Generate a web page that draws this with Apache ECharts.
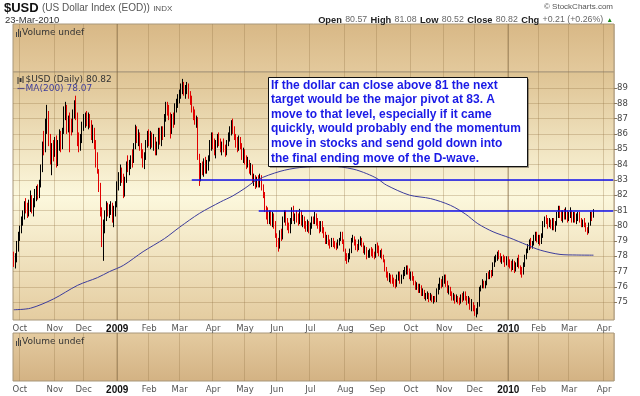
<!DOCTYPE html>
<html><head><meta charset="utf-8">
<script src="https://cdn.jsdelivr.net/npm/echarts@6/dist/echarts.min.js"></script>
<style>html,body{margin:0;padding:0;background:#fff;}#c{width:640px;height:396px;}</style>
</head><body><div id="c"></div>
<script>
// ---------- DATA ----------
const firstDay = '2008-09-25', lastAxisDay = '2010-04-09';
const holidays = ['2008-11-27','2008-12-25','2009-01-01','2009-04-10','2009-11-26','2009-12-25','2010-01-01'];
const monthNames = ['Jan','Feb','Mar','Apr','May','Jun','Jul','Aug','Sep','Oct','Nov','Dec'];
const priceTicks = [75,76,77,78,79,80,81,82,83,84,85,86,87,88,89];

const opens = [
 77.9,77.6,77.9,78.7,
 79.3,79.8,80.4,80.7,81.3,81.0,80.9,81.4,81.9,81.1,81.5,82.1,82.3,81.9,82.8,83.7,85.2,85.0,86.4,87.2,85.6,84.6,85.0,
 84.9,85.5,84.2,85.2,86.0,85.2,86.2,87.5,87.7,86.4,86.8,86.5,86.3,87.3,87.9,87.2,85.6,85.2,85.6,
 86.6,86.9,87.0,86.8,87.1,86.7,85.9,86.2,85.3,84.2,83.6,82.4,81.0,78.9,79.9,80.7,81.3,80.9,81.1,81.4,80.5,81.0,
 81.3,82.7,83.3,83.6,83.1,82.2,83.0,84.0,83.9,84.1,84.4,84.3,85.2,86.2,85.8,86.0,85.2,84.6,84.1,84.5,85.4,
 85.9,85.6,85.9,85.4,85.7,84.9,85.2,86.1,85.6,86.2,85.9,87.0,87.8,87.6,87.3,86.3,87.0,86.7,87.8,87.9,
 88.4,88.6,89.0,89.1,88.8,88.9,89.1,88.5,88.1,87.6,87.2,86.9,87.0,84.6,83.2,83.7,83.5,84.2,83.7,84.0,84.4,85.4,
 85.8,85.4,84.8,85.4,85.8,85.4,85.1,85.2,85.0,84.8,85.4,85.9,86.2,86.6,86.3,85.7,85.4,85.0,85.6,85.2,84.5,
 84.9,84.3,84.0,84.2,83.7,83.9,83.0,83.2,82.6,83.0,82.7,83.2,82.5,82.0,81.1,80.7,80.4,80.8,80.3,80.7,80.1,
 79.4,78.9,78.7,79.5,79.2,80.4,80.8,80.2,80.0,79.7,80.3,80.9,80.5,80.6,80.4,80.2,80.9,80.3,80.5,80.0,79.8,80.1,
 79.7,79.9,80.4,80.3,80.6,80.3,80.1,79.8,80.1,79.7,79.4,79.0,79.2,78.9,78.7,79.0,78.8,78.7,78.6,78.9,79.1,79.5,79.0,
 78.4,77.9,77.8,78.0,78.3,79.1,79.2,78.9,78.6,78.5,78.9,79.1,78.8,78.4,78.5,78.0,78.2,78.4,78.3,78.1,78.0,
 78.6,78.5,78.2,78.3,78.0,77.7,77.1,76.8,76.6,76.7,76.5,76.4,76.2,76.1,76.6,76.9,76.3,76.6,76.9,77.1,77.2,77.0,
 76.7,76.8,76.6,76.3,75.9,76.1,75.8,76.0,75.6,75.7,75.3,75.4,75.5,75.2,75.4,75.1,75.3,75.1,75.7,76.0,76.4,76.1,
 76.5,76.6,76.2,75.8,75.9,75.6,75.3,75.4,75.1,75.3,75.1,75.0,75.3,75.2,75.6,75.3,75.0,75.2,74.7,74.9,
 74.6,74.3,74.4,74.8,75.9,76.0,76.3,76.1,76.2,76.8,76.7,77.0,76.8,77.5,77.9,78.0,78.1,78.0,77.7,77.9,77.8,77.5,
 77.9,77.6,77.5,77.3,77.6,77.1,77.4,77.8,77.3,77.0,76.9,77.4,77.9,78.4,78.6,79.0,78.7,78.8,79.3,79.4,
 79.1,79.2,78.9,79.3,80.2,80.4,80.3,80.0,80.3,80.0,80.4,79.9,80.1,80.7,81.1,80.7,80.5,80.9,80.6,80.9,
 80.4,80.7,80.9,80.3,80.7,80.4,80.6,80.8,80.3,80.1,80.2,80.1,79.7,79.6,80.1,80.8,80.57
];
const highs = [
 78.3,78.2,79.0,79.6,
 80.0,80.6,81.0,81.6,81.8,81.5,81.7,82.3,82.0,81.8,82.4,82.6,82.7,83.0,84.0,85.5,86.2,87.0,87.9,87.5,86.0,85.4,85.6,
 85.8,85.9,85.6,86.3,86.2,86.4,87.8,88.1,87.9,87.2,87.4,87.0,87.6,88.2,88.5,87.4,86.1,86.0,86.8,
 87.3,87.4,87.5,87.4,87.3,86.9,86.6,86.4,85.6,84.8,83.7,82.8,81.2,80.4,81.0,81.6,81.5,81.4,81.6,81.5,81.3,81.6,
 82.9,83.5,84.0,83.8,83.4,83.2,84.2,84.6,84.3,84.6,85.0,85.4,86.6,86.5,86.3,86.1,85.4,85.0,84.8,85.6,86.2,
 86.3,86.2,86.1,86.0,85.8,85.5,86.4,86.4,86.5,86.5,87.3,88.1,88.1,87.9,87.4,87.3,87.4,88.0,88.3,88.6,
 88.9,89.3,89.6,89.4,89.2,89.4,89.3,88.8,88.5,87.8,87.6,87.2,87.1,84.7,84.1,84.2,84.4,84.5,84.3,84.6,85.6,86.1,
 86.1,85.7,85.6,86.0,86.1,85.7,85.5,85.7,85.3,85.6,86.1,86.5,86.9,87.0,86.5,86.0,85.8,85.9,85.8,85.4,85.1,
 85.0,84.6,84.5,84.3,84.1,84.0,83.4,83.3,83.2,83.3,83.4,83.3,82.7,82.2,81.3,81.2,81.0,81.0,80.9,80.8,80.3,
 79.5,79.2,79.7,79.8,80.6,81.0,81.0,80.5,80.2,80.5,81.2,81.3,80.8,81.0,80.8,81.1,81.0,80.7,80.6,80.3,80.4,80.3,
 80.2,80.6,80.6,80.9,80.8,80.5,80.3,80.3,80.3,79.9,79.6,79.4,79.4,79.1,79.2,79.2,79.0,78.9,79.1,79.2,79.6,79.6,79.1,
 78.5,78.2,78.2,78.5,79.2,79.4,79.3,79.1,78.8,79.1,79.3,79.2,78.9,78.7,78.6,78.4,78.5,78.6,78.5,78.3,78.8,
 78.9,78.7,78.4,78.5,78.1,77.8,77.3,77.0,76.9,76.8,76.8,76.6,76.5,76.8,77.0,77.0,76.8,77.1,77.3,77.4,77.4,77.2,
 77.0,77.0,76.7,76.4,76.3,76.2,76.2,76.1,75.9,75.8,75.6,75.7,75.6,75.6,75.5,75.4,75.4,75.9,76.2,76.6,76.5,76.7,
 76.8,76.8,76.4,76.1,76.0,75.7,75.6,75.5,75.5,75.4,75.3,75.5,75.6,75.7,75.7,75.4,75.4,75.3,75.2,75.0,
 74.8,74.6,75.0,76.0,76.1,76.5,76.4,76.4,76.9,77.0,77.1,77.1,77.6,78.0,78.1,78.3,78.4,78.2,78.0,78.1,78.0,78.0,
 78.0,77.8,77.7,77.8,77.7,77.6,77.9,78.1,77.4,77.3,77.6,78.1,78.5,78.8,79.1,79.2,79.0,79.4,79.6,79.6,
 79.4,79.4,79.5,80.3,80.6,80.7,80.5,80.5,80.4,80.5,80.5,80.3,80.9,81.3,81.3,81.0,81.0,81.1,81.2,81.0,
 80.9,81.2,81.0,80.9,80.9,80.8,80.9,80.9,80.5,80.4,80.5,80.2,79.9,80.2,80.9,80.9,81.08
];
const lows = [
 77.3,77.2,77.6,78.3,
 79.0,79.5,80.0,80.4,80.8,80.5,80.6,80.9,80.8,80.6,81.2,81.6,81.7,81.8,82.5,83.5,84.6,84.8,86.0,85.2,84.0,83.3,84.2,
 84.5,83.8,83.9,84.9,84.8,85.0,86.0,86.9,86.0,86.1,84.8,85.9,86.1,87.0,86.9,85.2,84.8,84.9,85.4,
 86.2,86.4,86.5,86.3,86.4,85.6,85.4,85.0,83.8,83.4,82.2,80.6,78.6,77.7,79.5,80.3,80.6,80.5,80.7,80.2,79.9,80.6,
 81.2,82.3,82.6,82.8,81.8,81.9,82.8,83.5,83.3,83.7,83.8,84.1,85.0,85.4,85.2,84.9,84.4,83.8,83.7,84.3,85.1,
 85.2,85.0,85.1,84.9,84.6,84.6,85.0,85.3,85.2,85.6,85.8,86.8,87.2,86.9,85.7,86.0,86.4,86.6,87.4,87.7,
 88.0,88.3,88.6,88.5,88.3,88.6,88.3,87.9,87.4,86.9,86.6,86.4,84.3,82.6,82.9,83.3,83.2,83.4,83.4,83.6,84.2,84.9,
 85.0,84.6,84.4,85.1,85.2,84.8,84.6,84.8,84.5,84.6,85.2,85.5,85.9,86.0,85.6,85.1,84.8,84.9,85.0,84.3,84.1,
 84.0,83.7,83.8,83.4,83.3,82.8,82.6,82.4,82.5,82.5,82.5,82.3,81.8,80.9,80.4,80.1,80.1,80.0,79.9,79.8,79.2,
 78.6,78.3,78.5,79.0,79.1,80.2,80.0,79.7,79.5,79.5,80.1,80.3,80.1,80.2,80.0,80.1,80.0,79.9,79.8,79.6,79.6,79.5,
 79.4,79.8,80.1,80.1,80.0,79.8,79.5,79.6,79.5,79.2,78.8,78.8,78.7,78.5,78.6,78.6,78.5,78.4,78.5,78.7,79.0,78.8,78.3,
 77.7,77.5,77.6,77.8,78.2,78.9,78.7,78.4,78.3,78.4,78.7,78.6,78.2,78.1,77.8,77.9,77.9,78.0,77.9,77.8,77.9,
 78.2,78.0,77.9,77.8,77.6,77.0,76.6,76.4,76.3,76.2,76.2,76.0,75.9,76.0,76.4,76.2,76.2,76.5,76.7,76.8,76.8,76.5,
 76.4,76.4,76.1,75.8,75.8,75.6,75.6,75.4,75.4,75.2,75.1,75.2,75.0,75.1,75.0,74.9,75.0,75.0,75.5,75.8,75.9,76.0,
 76.2,76.0,75.6,75.5,75.4,75.1,75.1,74.9,75.0,74.9,74.8,74.9,75.0,75.1,75.1,74.8,74.9,74.5,74.4,74.4,
 74.1,74.0,74.2,74.7,75.7,75.9,75.9,75.9,76.1,76.5,76.5,76.6,76.7,77.3,77.6,77.7,77.8,77.6,77.5,77.6,77.3,77.4,
 77.3,77.2,77.0,77.1,76.9,77.0,77.3,77.2,76.8,76.6,76.8,77.3,77.8,78.2,78.4,78.5,78.5,78.7,79.0,78.9,
 78.8,78.7,78.8,79.2,79.9,80.1,79.8,79.9,79.8,79.7,79.7,79.6,80.0,80.5,80.5,80.3,80.2,80.4,80.4,80.2,
 80.3,80.5,80.2,80.2,80.2,80.1,80.3,80.2,79.9,79.9,79.9,79.6,79.4,79.5,80.0,80.3,80.52
];
const closes = [
 77.6,77.9,78.7,79.3,
 79.8,80.4,80.7,81.3,81.0,80.9,81.4,81.9,81.1,81.5,82.1,82.3,81.9,82.8,83.7,85.2,85.0,86.4,87.2,85.6,84.6,85.0,84.9,
 85.5,84.2,85.2,86.0,85.2,86.2,87.5,87.7,86.4,86.8,86.5,86.3,87.3,87.9,87.2,85.6,85.2,85.6,86.6,
 86.9,87.0,86.8,87.1,86.7,85.9,86.2,85.3,84.2,83.6,82.4,81.0,78.9,79.9,80.7,81.3,80.9,81.1,81.4,80.5,81.0,81.3,
 82.7,83.3,83.6,83.1,82.2,83.0,84.0,83.9,84.1,84.4,84.3,85.2,86.2,85.8,86.0,85.2,84.6,84.1,84.5,85.4,85.9,
 85.6,85.9,85.4,85.7,84.9,85.2,86.1,85.6,86.2,85.9,87.0,87.8,87.6,87.3,86.3,87.0,86.7,87.8,87.9,88.4,
 88.6,89.0,89.1,88.8,88.9,89.1,88.5,88.1,87.6,87.2,86.9,87.0,84.6,83.2,83.7,83.5,84.2,83.7,84.0,84.4,85.4,85.8,
 85.4,84.8,85.4,85.8,85.4,85.1,85.2,85.0,84.8,85.4,85.9,86.2,86.6,86.3,85.7,85.4,85.0,85.6,85.2,84.5,84.9,
 84.3,84.0,84.2,83.7,83.9,83.0,83.2,82.6,83.0,82.7,83.2,82.5,82.0,81.1,80.7,80.4,80.8,80.3,80.7,80.1,79.4,
 78.9,78.7,79.5,79.2,80.4,80.8,80.2,80.0,79.7,80.3,80.9,80.5,80.6,80.4,80.2,80.9,80.3,80.5,80.0,79.8,80.1,79.7,
 79.9,80.4,80.3,80.6,80.3,80.1,79.8,80.1,79.7,79.4,79.0,79.2,78.9,78.7,79.0,78.8,78.7,78.6,78.9,79.1,79.5,79.0,78.4,
 77.9,77.8,78.0,78.3,79.1,79.2,78.9,78.6,78.5,78.9,79.1,78.8,78.4,78.5,78.0,78.2,78.4,78.3,78.1,78.0,78.6,
 78.5,78.2,78.3,78.0,77.7,77.1,76.8,76.6,76.7,76.5,76.4,76.2,76.1,76.6,76.9,76.3,76.6,76.9,77.1,77.2,77.0,76.7,
 76.8,76.6,76.3,75.9,76.1,75.8,76.0,75.6,75.7,75.3,75.4,75.5,75.2,75.4,75.1,75.3,75.1,75.7,76.0,76.4,76.1,76.5,
 76.6,76.2,75.8,75.9,75.6,75.3,75.4,75.1,75.3,75.1,75.0,75.3,75.2,75.6,75.3,75.0,75.2,74.7,74.9,74.6,
 74.3,74.4,74.8,75.9,76.0,76.3,76.1,76.2,76.8,76.7,77.0,76.8,77.5,77.9,78.0,78.1,78.0,77.7,77.9,77.8,77.5,77.9,
 77.6,77.5,77.3,77.6,77.1,77.4,77.8,77.3,77.0,76.9,77.4,77.9,78.4,78.6,79.0,78.7,78.8,79.3,79.4,79.1,
 79.2,78.9,79.3,80.2,80.4,80.3,80.0,80.3,80.0,80.4,79.9,80.1,80.7,81.1,80.7,80.5,80.9,80.6,80.9,80.4,
 80.7,80.9,80.3,80.7,80.4,80.6,80.8,80.3,80.1,80.2,80.1,79.7,79.6,80.1,80.8,80.61,80.82
];
// 200-day moving average, read at points along the curve
const maDates = ['2008-09-25','2008-10-10','2008-10-31','2008-11-24','2008-12-12','2008-12-24','2009-01-08','2009-01-27','2009-02-16','2009-03-02','2009-03-19','2009-04-08','2009-04-21','2009-05-01','2009-05-13','2009-06-03','2009-06-22','2009-07-20','2009-08-10','2009-08-21','2009-09-01','2009-09-09','2009-09-30','2009-10-20','2009-11-06','2009-11-20','2009-12-03','2009-12-17','2010-01-05','2010-01-20','2010-02-02','2010-02-19','2010-03-08','2010-03-23'];
const maValues = [74.5,74.6,75.2,76.1,76.6,77.0,77.4,78.3,79.15,79.9,80.8,81.56,81.95,82.45,83.0,83.55,83.8,83.9,83.7,83.4,83.07,82.65,82.0,81.77,81.33,80.75,80.13,79.6,79.2,78.75,78.4,78.12,78.08,78.07];
// horizontal levels drawn on the chart
const levelValues = [83, 81];
const levelStarts = ['2009-03-12', '2009-05-14'];
const noteLines = [
 'If the dollar can close above 81 the next',
 'target would be the major pivot at 83. A',
 'move to that level, especially if it came',
 'quickly, would probably end the momentum',
 'move in stocks and send gold down into',
 'the final ending move of the D-wave.'
];

// ---------- BUILD ----------
const dates = [];
(function(){
  const end = Date.parse(lastAxisDay + 'T00:00:00Z');
  for (let t = Date.parse(firstDay + 'T00:00:00Z'); t <= end; t += 86400000) {
    const d = new Date(t), wd = d.getUTCDay();
    if (wd === 0 || wd === 6) continue;
    const s = d.toISOString().slice(0, 10);
    if (holidays.indexOf(s) >= 0) continue;
    dates.push(s);
  }
})();
const monthStart = new Set();
const yearStarts = [];
for (let i = 1; i < dates.length; i++) {
  if (dates[i].slice(5, 7) !== dates[i - 1].slice(5, 7)) {
    monthStart.add(i);
    if (dates[i].slice(5, 7) === '01') yearStarts.push(dates[i]);
  }
}
const candles = closes.map((c, i) => [opens[i], c, lows[i], highs[i]]);
const maData = maDates.map((d, k) => [d, maValues[k]]);

const GL = 'rgba(150,118,70,0.32)';
const YL = 'rgba(120,95,60,0.5)';
function xAx(gi, labels) {
  return {
    type: 'category', gridIndex: gi, data: dates, boundaryGap: true,
    axisLine: {show: false}, axisTick: {show: false},
    axisLabel: labels ? {
      interval: (i) => monthStart.has(i), margin: 4,
      color: '#555', fontFamily: 'DejaVu Sans', fontSize: 8.5,
      formatter: (v) => { const m = +v.slice(5, 7); return m === 1 ? '{y|' + v.slice(0, 4) + '}' : monthNames[m - 1]; },
      rich: {y: {fontFamily: 'Liberation Sans', fontWeight: 'bold', fontSize: 10, color: '#111'}}
    } : {show: false},
    splitLine: {show: true, interval: (i) => monthStart.has(i), lineStyle: {color: GL, width: 1}}
  };
}
function grad(stops) {
  return {type: 'linear', x: 0, y: 0, x2: 0, y2: 1, colorStops: stops.map(s => ({offset: s[0], color: s[1]}))};
}
function yearLines() {
  return {silent: true, symbol: 'none', z: 1, animation: false, label: {show: false},
    lineStyle: {color: YL, width: 1, type: 'solid'},
    data: yearStarts.map(d => ({xAxis: d}))};
}
const BORDER = '#a8977b';
const option = {
  animation: false,
  grid: [
    {left: 13, right: 26, top: 24, height: 48, show: true, borderColor: BORDER, borderWidth: 1,
      backgroundColor: grad([[0, '#d8b886'], [1, '#e3c99c']])},
    {left: 13, right: 26, top: 72, height: 248, show: true, borderColor: BORDER, borderWidth: 1,
      backgroundColor: grad([[0, '#dec393'], [0.5, '#fcf8dd'], [1, '#e4cca0']])},
    {left: 13, right: 26, top: 333, height: 48, show: true, borderColor: BORDER, borderWidth: 1,
      backgroundColor: grad([[0, '#e4cba0'], [1, '#d3b283']])}
  ],
  xAxis: [xAx(0, false), xAx(1, true), xAx(2, true)],
  yAxis: [
    {type: 'value', gridIndex: 0, min: 0, max: 1, axisLabel: {show: false}, splitLine: {show: false}, axisLine: {show: false}, axisTick: {show: false}},
    {type: 'value', gridIndex: 1, position: 'right', min: 73.83, max: 90.05,
      axisLine: {show: false},
      axisTick: {show: true, customValues: priceTicks, length: 3, lineStyle: {color: '#8a7a60'}},
      axisLabel: {customValues: priceTicks, color: '#444', fontFamily: 'DejaVu Sans', fontSize: 8.5, margin: 3},
      splitLine: {show: false}},
    {type: 'value', gridIndex: 2, min: 0, max: 1, axisLabel: {show: false}, splitLine: {show: false}, axisLine: {show: false}, axisTick: {show: false}}
  ],
  series: [
    {type: 'line', xAxisIndex: 0, yAxisIndex: 0, data: [], markLine: yearLines()},
    {type: 'line', xAxisIndex: 2, yAxisIndex: 2, data: [], markLine: yearLines()},
    {type: 'line', xAxisIndex: 1, yAxisIndex: 1, data: [], z: 1,
      markLine: {silent: true, symbol: 'none', z: 1, animation: false, label: {show: false},
        lineStyle: {color: GL, width: 1, type: 'solid'},
        data: priceTicks.map(v => ({yAxis: v})).concat(yearStarts.map(d => ({xAxis: d, lineStyle: {color: YL}})))}},
    {type: 'candlestick', name: '$USD', xAxisIndex: 1, yAxisIndex: 1, data: candles, z: 3, barWidth: 1,
      itemStyle: {color: '#000', color0: '#e00000', borderColor: '#000', borderColor0: '#e00000', borderWidth: 1}},
    {type: 'line', name: 'MA(200)', xAxisIndex: 1, yAxisIndex: 1, data: maData, smooth: 0.3, showSymbol: false, z: 4,
      lineStyle: {color: '#3c3c9c', width: 1},
      markLine: {silent: true, symbol: 'none', z: 5, animation: false, label: {show: false},
        lineStyle: {color: '#1212ee', width: 1.6, type: 'solid'},
        data: levelValues.map((v, k) => [{coord: [levelStarts[k], v]}, {coord: [dates[dates.length - 1], v]}])}}
  ],
  graphic: [
    {type: 'text', left: 4, top: 2, style: {text: '{a|$USD} {b|(US Dollar Index (EOD))} {c|INDX}',
      rich: {a: {fontFamily: 'Liberation Sans', fontWeight: 'bold', fontSize: 13, fill: '#111'},
             b: {fontFamily: 'Liberation Sans', fontSize: 10, fill: '#555'},
             c: {fontFamily: 'Liberation Sans', fontSize: 8, fill: '#555'}}}},
    {type: 'text', left: 5, top: 15, style: {text: '23-Mar-2010', fontFamily: 'Liberation Sans', fontSize: 9.5, fill: '#333'}},
    {type: 'text', right: 27, top: 3, style: {text: '© StockCharts.com', fontFamily: 'Liberation Sans', fontSize: 8, fill: '#555'}},
    {type: 'text', right: 27, top: 14, style: {
      text: '{l|Open} {v|80.57} {l|High} {v|81.08} {l|Low} {v|80.52} {l|Close} {v|80.82} {l|Chg} {v|+0.21 (+0.26%)} {g|▲}',
      rich: {l: {fontFamily: 'Liberation Sans', fontWeight: 'bold', fontSize: 9.3, fill: '#222'},
             v: {fontFamily: 'Liberation Sans', fontSize: 8.8, fill: '#666'},
             g: {fontSize: 6.5, fill: '#1a8a1a'}}}},
    // volume panel labels
    {type: 'group', left: 16, top: 28, children: [
      {type: 'rect', shape: {x: 0, y: 3, width: 1, height: 5}, style: {fill: '#444'}},
      {type: 'rect', shape: {x: 2, y: 0, width: 1, height: 8}, style: {fill: '#444'}},
      {type: 'rect', shape: {x: 4, y: 2, width: 1, height: 6}, style: {fill: '#444'}},
      {type: 'text', x: 6, y: -1, style: {text: 'Volume undef', fontFamily: 'DejaVu Sans', fontSize: 9, fill: '#333'}}
    ]},
    {type: 'group', left: 16, top: 337, children: [
      {type: 'rect', shape: {x: 0, y: 3, width: 1, height: 5}, style: {fill: '#444'}},
      {type: 'rect', shape: {x: 2, y: 0, width: 1, height: 8}, style: {fill: '#444'}},
      {type: 'rect', shape: {x: 4, y: 2, width: 1, height: 6}, style: {fill: '#444'}},
      {type: 'text', x: 6, y: -1, style: {text: 'Volume undef', fontFamily: 'DejaVu Sans', fontSize: 9, fill: '#333'}}
    ]},
    // main panel legend
    {type: 'group', left: 15, top: 75, children: [
      {type: 'rect', shape: {x: 0, y: 1, width: 1, height: 7}, style: {fill: '#333'}},
      {type: 'rect', shape: {x: 2, y: 2, width: 2, height: 4}, style: {fill: '#333'}},
      {type: 'rect', shape: {x: 5, y: 0, width: 1, height: 7}, style: {fill: '#333'}},
      {type: 'text', x: 8, y: -1, style: {text: '$USD (Daily) 80.82', fontFamily: 'DejaVu Sans', fontSize: 9, fill: '#333'}},
      {type: 'line', shape: {x1: 0, y1: 12.5, x2: 7, y2: 12.5}, style: {stroke: '#3c3c9c', lineWidth: 1.2}},
      {type: 'text', x: 8, y: 8, style: {text: 'MA(200) 78.07', fontFamily: 'DejaVu Sans', fontSize: 9, fill: '#3c3c9c'}}
    ]},
    // annotation box
    {type: 'rect', left: 270, top: 79, shape: {width: 259, height: 89}, style: {fill: 'rgba(60,50,40,0.45)'}, z: 10},
    {type: 'rect', left: 268, top: 77, shape: {width: 259, height: 89}, style: {fill: '#fff', stroke: '#111', lineWidth: 1}, z: 11},
    {type: 'text', left: 271, top: 78, z: 12, style: {text: noteLines.join('\n'), fontFamily: 'Liberation Sans', fontWeight: 'bold', fontSize: 12, lineHeight: 14.6, fill: '#1a1ae6'}}
  ]
};
const chart = echarts.init(document.getElementById('c'), null, {renderer: 'canvas'});
chart.setOption(option);
</script>
</body></html>
